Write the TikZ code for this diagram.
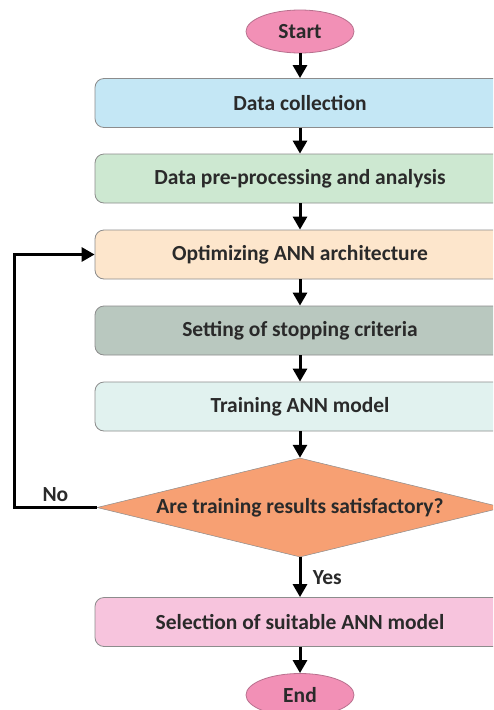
\documentclass[tikz,border=0pt]{standalone}
\usepackage{fontspec}
\setmainfont{Carlito}
\usetikzlibrary{shapes.geometric,arrows.meta}

\definecolor{termfill}{HTML}{F290B6}
\definecolor{termline}{HTML}{B8708E}
\definecolor{collect}{HTML}{C4E7F5}
\definecolor{prepro}{HTML}{CDE8D1}
\definecolor{optim}{HTML}{FDE6CC}
\definecolor{stopc}{HTML}{B9C8BF}
\definecolor{train}{HTML}{E1F2EF}
\definecolor{decfill}{HTML}{F7A073}
\definecolor{select}{HTML}{F7C4DD}
\definecolor{boxline}{HTML}{8C8C8C}
\definecolor{txt}{HTML}{2A2A2A}

\tikzset{
  lbl/.style={font=\bfseries\fontsize{21.5}{24}\selectfont, text=txt},
  box/.style={lbl, draw=boxline, line width=0.8pt, rounded corners=9pt,
              minimum width=410pt, minimum height=49pt},
  term/.style={lbl, ellipse, draw=termline, line width=0.8pt, fill=termfill,
               minimum width=108pt, minimum height=43pt, inner sep=0pt},
  decide/.style={lbl, diamond, aspect=4.1, draw=boxline, line width=0.5pt, fill=decfill,
                 minimum width=406pt, minimum height=99pt, inner sep=0pt},
  flow/.style={->, line width=3pt}
}

\begin{document}
\begin{tikzpicture}[x=1pt,y=-1pt,>={Triangle[length=13pt,width=14pt]}]
  \clip (0,0) rectangle (493,710);
  \fill[white] (0,0) rectangle (493,710);

  \node[term] (start) at (300,31.5) {Start};
  \node[box, fill=collect] (collect) at (300,103) {Data collection};
  \node[box, fill=prepro] (prepro) at (300,178.5) {Data pre-processing and analysis};
  \node[box, fill=optim] (optim) at (300,254.5) {Optimizing ANN architecture};
  \node[box, fill=stopc] (stopc) at (300,330.5) {Setting of stopping criteria};
  \node[box, fill=train] (train) at (300,406.5) {Training ANN model};
  \node[decide] (check) at (300,507.5) {Are training results satisfactory?};
  \node[box, fill=select] (select) at (300,622) {Selection of suitable ANN model};
  \node[term] (end) at (300,695) {End};
  \coordinate (back) at (14,507.5);

  % main line
  \draw[flow] (start) -- (collect);
  \draw[flow] (collect) -- (prepro);
  \draw[flow] (prepro) -- (optim);
  \draw[flow] (optim) -- (stopc);
  \draw[flow] (stopc) -- (train);
  \draw[flow] (train) -- (check);
  \draw[flow] (check) -- node[lbl, right=8pt]{Yes} (select);
  \draw[flow] (select) -- (end);

  % loop back
  \draw[flow, line join=miter] (check.west) -- node[lbl, above=1pt]{No} (back) |- (optim.west);
\end{tikzpicture}
\end{document}
